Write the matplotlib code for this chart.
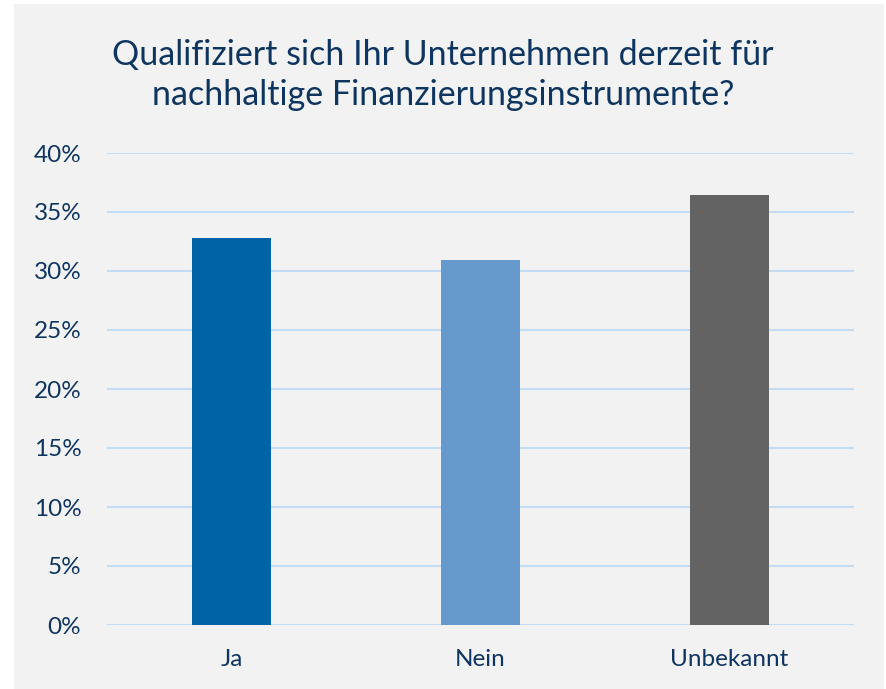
import matplotlib.pyplot as plt
import numpy as np

plt.rcParams['font.family'] = ['Lato', 'DejaVu Sans']


def visualize_qualification(labels, shares):
    text_color = '#0e3560'
    fig = plt.figure(figsize=(8.87, 6.89), dpi=100)
    fig.patches.append(plt.Rectangle((14 / 887, 0), 870 / 887, 685 / 689, transform=fig.transFigure,
                                     facecolor='#f2f2f2', edgecolor='none', zorder=-10))
    ax = fig.add_axes([107 / 887, 1 - 625 / 689, 747 / 887, 472 / 689])
    ax.set_facecolor('none')

    x = np.arange(len(labels))  # the label locations
    width = 0.315  # the width of the bars
    ax.bar(x, shares, width, color=['#0063a6', '#6699cc', '#636363'], zorder=3)

    # Light blue horizontal grid, no frame
    ax.set_ylim(0, 0.40)
    ax.set_xlim(-0.5, 2.5)
    ax.set_yticks(np.arange(0, 0.41, 0.05))
    ax.set_yticklabels([f'{int(round(t * 100))}%' for t in np.arange(0, 0.41, 0.05)])
    ax.yaxis.grid(True, color='#c2dcf4', linewidth=1.5, zorder=0)
    for spine in ax.spines.values():
        spine.set_visible(False)
    ax.tick_params(axis='both', length=0, labelsize=17.5, labelcolor=text_color)
    ax.tick_params(axis='y', pad=18.5)
    ax.tick_params(axis='x', pad=17)
    ax.set_xticks(x)
    ax.set_xticklabels(labels)

    fig.text(443 / 887, 1 - 105 / 689, 'Qualifiziert sich Ihr Unternehmen derzeit für\nnachhaltige Finanzierungsinstrumente?',
             ha='center', va='baseline', fontsize=24.5, color=text_color, linespacing=1.32)
    plt.savefig('out.png', dpi=100)


labels = ['Ja', 'Nein', 'Unbekannt']
shares = [0.328, 0.309, 0.364]
visualize_qualification(labels, shares)
